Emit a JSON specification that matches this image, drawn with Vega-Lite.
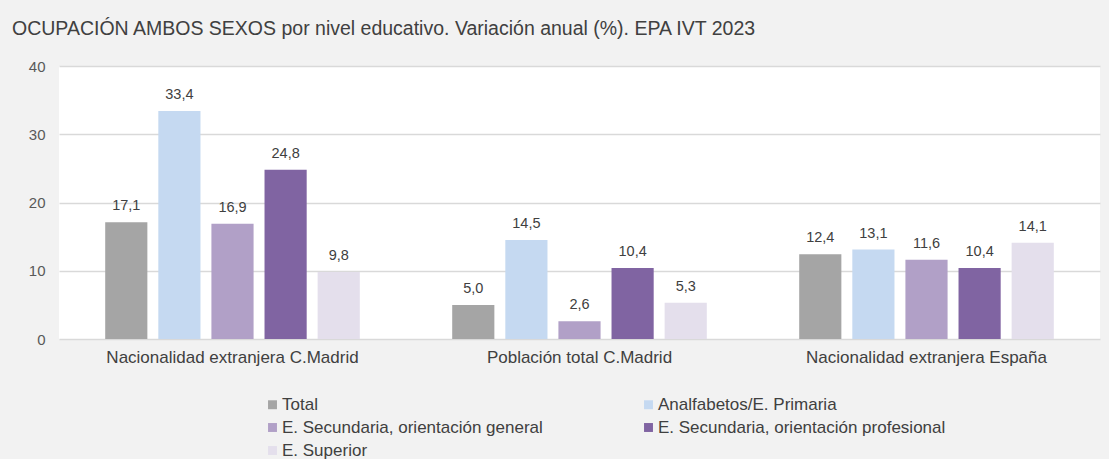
{
  "$schema": "https://vega.github.io/schema/vega-lite/v6.json",
  "autosize": {"type": "none"},
  "width": 1041,
  "height": 273,
  "padding": {"left": 59, "top": 66, "right": 9, "bottom": 120},
  "background": "#f2f2f2",
  "title": {
    "text": "OCUPACIÓN  AMBOS SEXOS por nivel educativo. Variación anual (%). EPA IVT 2023",
    "anchor": "start",
    "frame": "group",
    "dx": -47,
    "offset": 20,
    "font": "Liberation Sans",
    "fontSize": 19.5,
    "fontWeight": "normal",
    "color": "#404040"
  },
  "config": {
    "view": {"fill": "#ffffff", "stroke": null},
    "locale": {"number": {"decimal": ",", "thousands": ".", "grouping": [3], "currency": ["", " €"]}},
    "font": "Liberation Sans"
  },
  "data": {
    "values": [
      {"grupo": "Nacionalidad extranjera C.Madrid", "nivel": "Total", "valor": 17.1},
      {"grupo": "Nacionalidad extranjera C.Madrid", "nivel": "Analfabetos/E. Primaria", "valor": 33.4},
      {"grupo": "Nacionalidad extranjera C.Madrid", "nivel": "E. Secundaria, orientación general", "valor": 16.9},
      {"grupo": "Nacionalidad extranjera C.Madrid", "nivel": "E. Secundaria, orientación profesional", "valor": 24.8},
      {"grupo": "Nacionalidad extranjera C.Madrid", "nivel": "E. Superior", "valor": 9.8},
      {"grupo": "Población total C.Madrid", "nivel": "Total", "valor": 5.0},
      {"grupo": "Población total C.Madrid", "nivel": "Analfabetos/E. Primaria", "valor": 14.5},
      {"grupo": "Población total C.Madrid", "nivel": "E. Secundaria, orientación general", "valor": 2.6},
      {"grupo": "Población total C.Madrid", "nivel": "E. Secundaria, orientación profesional", "valor": 10.4},
      {"grupo": "Población total C.Madrid", "nivel": "E. Superior", "valor": 5.3},
      {"grupo": "Nacionalidad extranjera España", "nivel": "Total", "valor": 12.4},
      {"grupo": "Nacionalidad extranjera España", "nivel": "Analfabetos/E. Primaria", "valor": 13.1},
      {"grupo": "Nacionalidad extranjera España", "nivel": "E. Secundaria, orientación general", "valor": 11.6},
      {"grupo": "Nacionalidad extranjera España", "nivel": "E. Secundaria, orientación profesional", "valor": 10.4},
      {"grupo": "Nacionalidad extranjera España", "nivel": "E. Superior", "valor": 14.1}
    ]
  },
  "encoding": {
    "x": {
      "field": "grupo",
      "type": "nominal",
      "sort": null,
      "scale": {"paddingInner": 0, "paddingOuter": 0},
      "axis": {
        "title": null,
        "labelAngle": 0,
        "labelFontSize": 17,
        "labelColor": "#404040",
        "labelPadding": 10,
        "labelLimit": 400,
        "ticks": false,
        "domain": false
      }
    },
    "xOffset": {
      "field": "nivel",
      "type": "nominal",
      "sort": ["Total", "Analfabetos/E. Primaria", "E. Secundaria, orientación general", "E. Secundaria, orientación profesional", "E. Superior"],
      "scale": {"paddingInner": 0.206, "paddingOuter": 0.87}
    },
    "y": {
      "field": "valor",
      "type": "quantitative",
      "scale": {"domain": [0, 40]},
      "axis": {
        "title": null,
        "values": [0, 10, 20, 30, 40],
        "labelFontSize": 15,
        "labelColor": "#595959",
        "labelPadding": 14,
        "ticks": false,
        "domain": false,
        "gridColor": "#d9d9d9",
        "gridWidth": 1.3
      }
    }
  },
  "layer": [
    {
      "mark": {"type": "bar"},
      "encoding": {
        "color": {
          "field": "nivel",
          "type": "nominal",
          "sort": ["Total", "Analfabetos/E. Primaria", "E. Secundaria, orientación general", "E. Secundaria, orientación profesional", "E. Superior"],
          "scale": {
            "domain": ["Total", "Analfabetos/E. Primaria", "E. Secundaria, orientación general", "E. Secundaria, orientación profesional", "E. Superior"],
            "range": ["#a5a5a5", "#c5d9f1", "#b1a0c7", "#8064a2", "#e4dfec"]
          },
          "legend": {
            "title": null,
            "orient": "none",
            "legendX": 205,
            "legendY": 330,
            "columns": 2,
            "direction": "horizontal",
            "symbolType": "square",
            "symbolSize": 80,
            "symbolStrokeWidth": 0,
            "symbolOffset": 0,
            "labelFontSize": 17,
            "labelColor": "#404040",
            "labelOffset": 1,
            "labelLimit": 400,
            "rowPadding": 5,
            "columnPadding": 97
          }
        }
      }
    },
    {
      "mark": {"type": "text", "baseline": "bottom", "dy": -9, "fontSize": 14.5, "color": "#404040"},
      "encoding": {
        "text": {"field": "valor", "type": "quantitative", "format": ".1f"}
      }
    }
  ]
}
